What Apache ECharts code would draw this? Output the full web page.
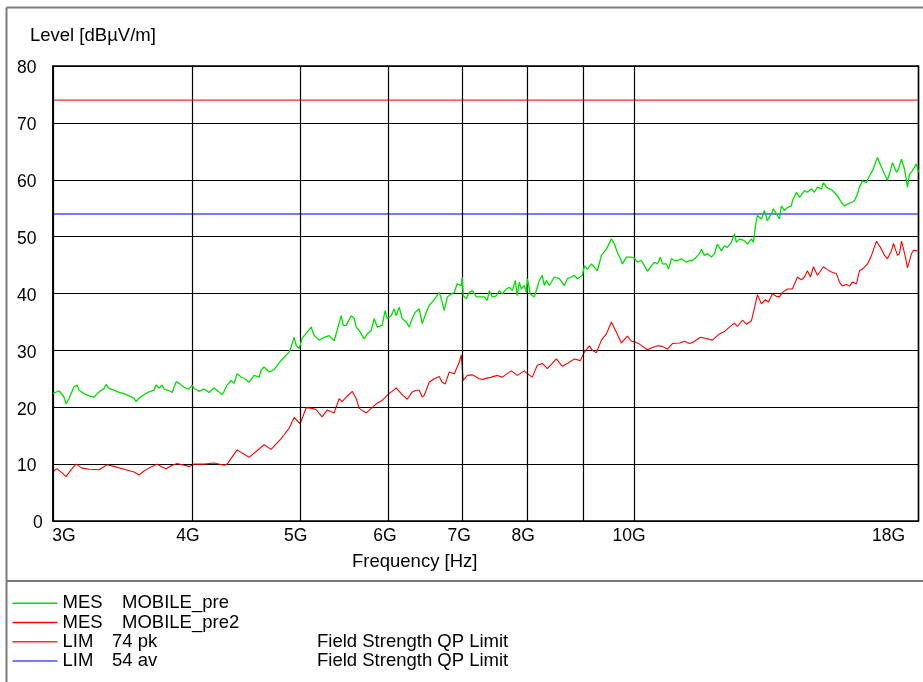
<!DOCTYPE html>
<html>
<head>
<meta charset="utf-8">
<script src="https://cdn.jsdelivr.net/npm/echarts@6/dist/echarts.min.js"></script>
<style>
html,body{margin:0;padding:0;background:#fff;}
#chart{width:923px;height:682px;}
</style>
</head>
<body>
<div id="chart"></div>
<script>
// ---------- data ----------
const yTicks = [0, 10, 20, 30, 40, 50, 60, 70, 80];
const xTickFreqs = [3, 4, 5, 6, 7, 8, 9, 10, 18];          // GHz, vertical grid lines
const xTickLabels = ['3G', '4G', '5G', '6G', '7G', '8G', '', '10G', '18G'];

// MES MOBILE_pre (green)
const freqPre = [3.000,3.038,3.069,3.082,3.101,3.133,3.153,3.166,3.199,3.232,3.266,3.300,3.334,3.348,3.369,3.404,3.440,3.475,3.512,3.548,3.563,3.585,3.622,3.660,3.698,3.713,3.737,3.760,3.776,3.815,3.839,3.871,3.895,3.935,3.976,4.001,4.018,4.059,4.102,4.144,4.187,4.231,4.257,4.275,4.302,4.338,4.365,4.392,4.428,4.456,4.502,4.549,4.597,4.616,4.644,4.693,4.742,4.791,4.841,4.891,4.911,4.942,4.963,4.994,5.025,5.077,5.119,5.151,5.205,5.259,5.314,5.369,5.402,5.425,5.448,5.471,5.505,5.562,5.597,5.620,5.655,5.678,5.714,5.749,5.797,5.833,5.870,5.930,5.967,5.992,6.042,6.080,6.105,6.143,6.181,6.233,6.272,6.311,6.350,6.403,6.443,6.497,6.537,6.578,6.632,6.674,6.702,6.743,6.786,6.842,6.885,6.927,6.985,7.000,7.014,7.058,7.102,7.146,7.206,7.281,7.326,7.372,7.403,7.449,7.511,7.558,7.604,7.668,7.716,7.764,7.812,7.844,7.877,7.910,7.959,7.992,8.009,8.059,8.126,8.177,8.211,8.262,8.296,8.330,8.383,8.470,8.558,8.647,8.701,8.773,8.828,8.883,8.976,9.013,9.069,9.145,9.202,9.259,9.337,9.434,9.531,9.591,9.651,9.711,9.751,9.833,9.935,9.997,10.059,10.143,10.206,10.270,10.356,10.420,10.484,10.550,10.594,10.682,10.727,10.794,10.861,10.928,11.020,11.134,11.204,11.273,11.367,11.438,11.485,11.555,11.627,11.723,11.797,11.871,11.969,12.044,12.119,12.220,12.296,12.347,12.424,12.553,12.631,12.737,12.789,12.843,12.895,13.003,13.084,13.165,13.275,13.330,13.413,13.497,13.553,13.637,13.722,13.836,13.865,13.981,14.068,14.214,14.302,14.422,14.512,14.602,14.724,14.784,14.876,14.970,15.062,15.220,15.346,15.442,15.538,15.668,15.765,15.863,15.929,16.028,16.162,16.263,16.364,16.466,16.534,16.672,16.776,16.880,16.950,17.056,17.198,17.269,17.377,17.485,17.594,17.667,17.777,17.925,18.000];
const levelPre = [22.4,22.9,21.8,20.6,21.5,23.6,23.9,23.0,22.4,22.0,21.8,22.7,23.3,24.0,23.3,23.0,22.6,22.4,22.0,21.6,21.0,21.6,22.2,22.7,23.0,23.9,23.4,23.9,23.2,22.9,22.6,24.5,24.2,23.5,23.2,23.9,23.3,22.8,23.2,22.6,23.4,22.7,22.2,22.8,23.9,24.7,24.2,25.9,25.3,25.1,24.4,25.6,25.3,26.5,27.1,26.2,26.6,27.8,28.8,29.7,30.6,32.3,30.9,30.3,32.1,33.2,34.1,32.6,31.8,32.3,32.6,31.7,33.5,34.8,36.1,34.4,34.4,36.1,35.6,34.1,33.5,32.9,32.0,32.9,33.5,35.6,34.1,34.4,37.0,35.6,36.1,37.3,36.1,37.6,35.6,35.0,34.1,35.6,36.7,37.3,34.7,36.7,37.9,38.5,39.4,40.2,39.1,37.0,39.4,39.9,40.2,41.7,41.4,42.9,39.6,39.1,40.2,40.5,39.4,39.4,39.4,38.8,40.5,39.4,39.6,40.5,39.9,40.8,41.1,40.5,42.3,39.6,42.0,40.8,41.4,40.2,42.6,39.9,39.4,41.1,42.3,43.2,41.4,42.3,41.4,42.9,42.6,41.4,42.6,42.9,43.2,42.6,43.2,44.9,44.3,45.2,44.6,44.0,46.7,47.8,49.6,48.7,47.2,46.1,45.2,46.4,46.4,46.2,45.5,45.8,44.9,43.9,44.9,45.5,45.2,46.4,45.2,45.2,44.3,46.1,45.8,45.8,46.1,45.5,45.8,45.8,46.4,47.0,47.8,46.7,47.0,46.4,47.0,48.7,47.5,48.4,48.1,49.0,50.5,49.0,49.6,49.3,48.7,49.6,49.0,51.9,53.7,53.1,54.6,52.8,54.0,54.9,54.0,53.1,55.4,54.6,55.1,55.4,56.3,57.8,56.9,58.1,57.8,58.4,57.8,58.7,58.4,59.5,58.7,58.4,58.1,57.2,56.0,55.4,55.7,56.0,56.3,57.5,58.7,59.8,59.5,60.7,61.6,63.0,63.9,62.2,61.0,59.9,61.0,63.0,61.3,61.9,63.6,61.9,58.7,61.0,61.6,62.8,61.3];

// MES MOBILE_pre2 (red)
const freqPre2 = [3.000,3.025,3.051,3.082,3.114,3.146,3.186,3.232,3.300,3.355,3.404,3.475,3.548,3.585,3.622,3.660,3.721,3.760,3.792,3.831,3.879,3.935,3.976,4.018,4.102,4.187,4.275,4.302,4.392,4.502,4.644,4.712,4.811,4.891,4.942,5.004,5.067,5.130,5.172,5.237,5.292,5.369,5.425,5.459,5.505,5.574,5.620,5.655,5.738,5.797,5.857,5.930,5.992,6.017,6.105,6.169,6.246,6.311,6.363,6.403,6.443,6.470,6.537,6.605,6.674,6.715,6.757,6.814,6.885,6.956,6.985,7.014,7.073,7.146,7.251,7.296,7.326,7.434,7.527,7.604,7.748,7.844,7.959,8.009,8.092,8.177,8.262,8.348,8.505,8.611,8.701,8.828,8.938,9.013,9.107,9.164,9.240,9.337,9.434,9.531,9.631,9.731,9.853,9.935,9.997,10.101,10.270,10.377,10.484,10.594,10.704,10.816,10.974,11.088,11.204,11.273,11.462,11.603,11.748,11.920,12.044,12.169,12.296,12.372,12.501,12.605,12.737,12.789,12.843,12.895,13.003,13.111,13.193,13.303,13.413,13.497,13.580,13.722,13.865,14.010,14.126,14.214,14.302,14.392,14.482,14.602,14.663,14.784,14.908,15.062,15.188,15.283,15.378,15.506,15.603,15.700,15.830,15.929,16.028,16.196,16.330,16.500,16.672,16.776,16.880,17.020,17.092,17.233,17.305,17.377,17.521,17.594,17.740,17.814,17.962];
const levelPre2 = [8.7,9.2,8.6,7.8,9.0,10.0,9.3,9.1,9.0,9.9,9.6,9.1,8.6,8.1,8.8,9.3,10.0,9.5,9.2,9.7,10.1,9.8,9.6,10.0,10.0,10.2,9.8,10.0,12.5,11.2,13.4,12.6,14.5,16.3,18.2,17.1,19.9,19.8,19.6,18.3,19.5,19.0,21.5,21.0,21.8,22.8,21.5,19.8,19.0,19.8,20.6,21.2,22.1,22.4,23.4,22.4,21.4,22.7,23.0,23.0,21.8,22.1,24.4,25.0,25.4,24.4,24.1,26.2,25.9,27.9,29.2,24.7,25.6,25.7,25.0,24.9,24.7,25.3,25.6,25.3,26.4,25.6,26.4,25.9,25.3,27.4,27.7,26.8,28.5,27.2,27.7,28.5,28.2,29.7,30.8,30.0,29.6,31.8,32.9,35.0,33.2,31.3,32.5,31.6,31.5,31.1,30.1,30.5,30.8,30.7,30.2,31.2,31.3,31.6,31.2,31.4,32.3,32.1,31.8,32.9,33.3,34.1,34.8,34.2,35.3,34.6,35.2,35.3,38.2,39.8,38.2,38.9,38.5,39.9,39.5,39.4,40.2,40.8,40.8,42.9,42.4,42.9,44.0,42.9,44.7,43.2,43.7,44.7,44.2,43.7,43.5,42.0,41.3,41.6,41.3,42.0,41.7,44.0,44.3,45.2,46.7,49.2,47.8,46.7,46.1,47.5,48.8,46.7,47.0,49.2,46.4,44.5,47.0,47.6,47.5];

// limits
const limitFreqs = [3, 18];
const limitPk = [74, 74];
const limitAv = [54, 54];

// ---------- chart ----------
const FONT = '"Liberation Sans", Arial, Helvetica, sans-serif';
const TXT = 18.5;
const zip = (xs, ys) => xs.map((x, i) => [x, ys[i]]);
const labelShift = {3: 11, 4: -4, 5: -4, 6: -3, 7: -3, 8: -3.5, 9: 0, 10: -5.5, 18: -30};

const gridLines = xTickFreqs.map((f, i) => {
  const s = labelShift[f];
  return {
    xAxis: f,
    label: {
      show: xTickLabels[i] !== '',
      formatter: xTickLabels[i],
      padding: s >= 0 ? [0, 0, 0, 2 * s] : [0, -2 * s, 0, 0]
    }
  };
});

const richItem = extra => Object.assign({color: '#000', fontFamily: FONT, fontSize: TXT, lineHeight: 19.3}, extra || {});

const chart = echarts.init(document.getElementById('chart'), null, {renderer: 'canvas'});
chart.setOption({
  animation: false,
  backgroundColor: '#fff',
  grid: {left: 53, top: 66, right: 4.5, bottom: 161, show: true, borderColor: '#000', borderWidth: 1.5, backgroundColor: 'transparent'},
  xAxis: {
    type: 'log', logBase: 10, min: 3, max: 18,
    axisLine: {show: false}, axisTick: {show: false}, axisLabel: {show: false},
    splitLine: {show: false}, minorTick: {show: false}, minorSplitLine: {show: false}
  },
  yAxis: {
    type: 'value', min: yTicks[0], max: yTicks[yTicks.length - 1], interval: 10,
    axisLine: {show: true, lineStyle: {color: '#000', width: 1.5}},
    axisTick: {show: false},
    splitLine: {show: true, lineStyle: {color: '#000', width: 1.2}},
    axisLabel: {
      align: 'left', margin: 36, verticalAlign: 'middle', padding: [5, 0, 0, 0],
      color: '#000', fontFamily: FONT, fontSize: 17.5,
      formatter: v => v === 0 ? '{z|0}' : String(v),
      rich: {z: {padding: [0, 0, 0, 16], color: '#000', fontFamily: FONT, fontSize: 17.5}}
    }
  },
  legend: {
    data: ['MOBILE_pre', 'MOBILE_pre2', '74 pk', '54 av'],
    orient: 'vertical', left: 12.5, top: 593.5,
    itemWidth: 45, itemHeight: 1.5, itemGap: 0, icon: 'rect',
    selectedMode: false, padding: 0,
    textStyle: {
      color: '#000', fontFamily: FONT, fontSize: TXT, lineHeight: 19.3,
      rich: {
        a: richItem({width: 59.5}),
        b: richItem(),
        c: richItem({width: 49.5}),
        d: richItem({width: 205}),
        e: richItem()
      }
    },
    formatter: name => {
      if (name === 'MOBILE_pre' || name === 'MOBILE_pre2') return '{a|MES}{b|' + name + '}';
      return '{c|LIM}{d|' + name + '}{e|Field Strength QP Limit}';
    }
  },
  graphic: [
    {type: 'line', silent: true, shape: {x1: 6.5, y1: 7.5, x2: 6.5, y2: 700}, style: {stroke: '#7a7a7a', lineWidth: 2}},
    {type: 'line', silent: true, shape: {x1: 6.5, y1: 7.5, x2: 930, y2: 7.5}, style: {stroke: '#7a7a7a', lineWidth: 2}},
    {type: 'line', silent: true, shape: {x1: 6.5, y1: 581, x2: 930, y2: 581}, style: {stroke: '#7a7a7a', lineWidth: 2}},
    {type: 'text', silent: true, x: 30, y: 35.5, style: {text: 'Level [dBµV/m]', fill: '#000', fontFamily: FONT, fontSize: TXT, verticalAlign: 'middle', align: 'left'}},
    {type: 'text', silent: true, x: 352, y: 562, style: {text: 'Frequency [Hz]', fill: '#000', fontFamily: FONT, fontSize: TXT, verticalAlign: 'middle', align: 'left'}}
  ],
  series: [
    {
      name: '54 av', type: 'line', z: 2, showSymbol: false, symbol: 'none',
      data: zip(limitFreqs, limitAv),
      itemStyle: {color: '#4d4dff'}, lineStyle: {color: '#4d4dff', width: 1.5},
      markLine: {
        silent: true, symbol: ['none', 'none'], animation: false,
        lineStyle: {color: '#000', type: 'solid', width: 1.2},
        emphasis: {disabled: true},
        label: {position: 'start', distance: 6, color: '#000', fontFamily: FONT, fontSize: 17.5},
        data: gridLines
      }
    },
    {
      name: '74 pk', type: 'line', z: 3, showSymbol: false, symbol: 'none',
      data: zip(limitFreqs, limitPk),
      itemStyle: {color: '#ff2a2a'}, lineStyle: {color: '#ff2a2a', width: 1.2}
    },
    {
      name: 'MOBILE_pre2', type: 'line', z: 4, showSymbol: false, symbol: 'none',
      data: zip(freqPre2, levelPre2),
      itemStyle: {color: '#ff0000'}, lineStyle: {color: '#ff0000', width: 1.1}
    },
    {
      name: 'MOBILE_pre', type: 'line', z: 5, showSymbol: false, symbol: 'none',
      data: zip(freqPre, levelPre),
      itemStyle: {color: '#00e000'}, lineStyle: {color: '#00e000', width: 1.3}
    }
  ]
});
</script>
</body>
</html>
